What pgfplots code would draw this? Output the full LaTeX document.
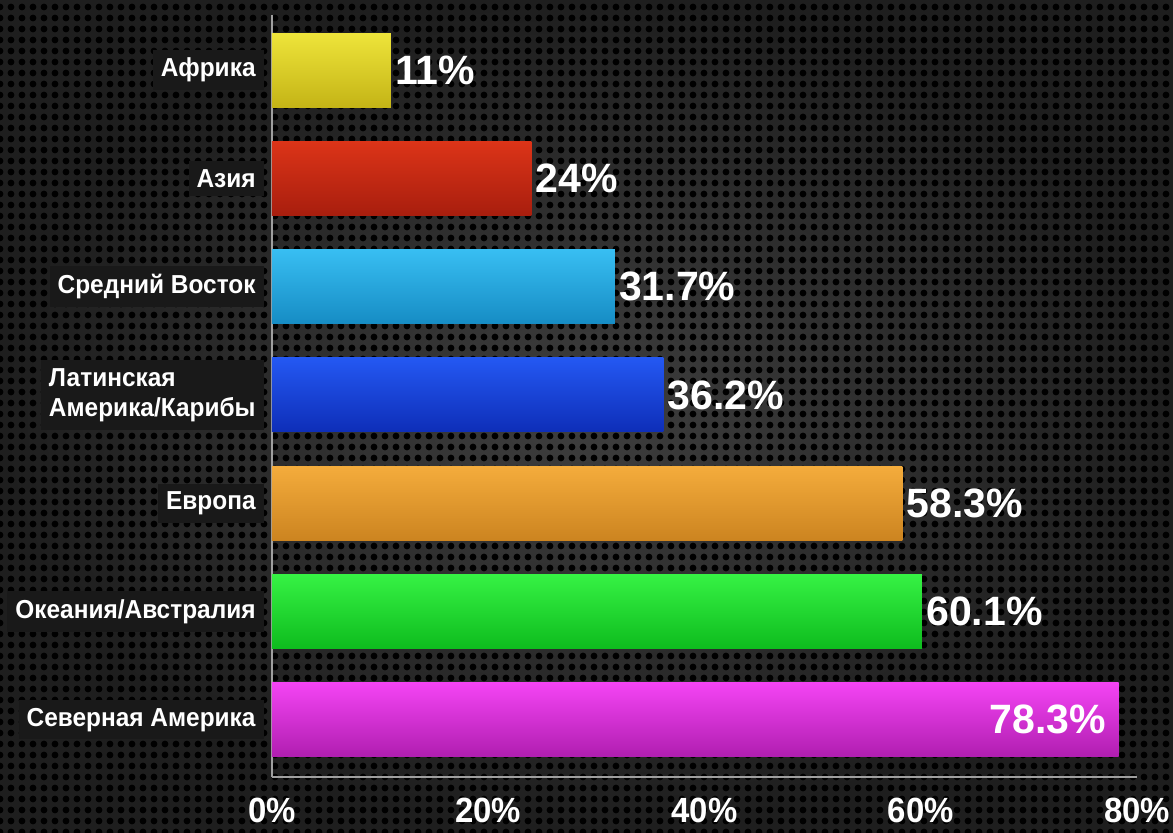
\documentclass[border=0pt]{standalone}
\usepackage{fontspec}
\setmainfont{Liberation Sans}
\newfontfamily\narrowfont[FakeStretch=0.94]{Liberation Sans}
\usepackage{pgfplots}
\pgfplotsset{compat=1.18}
\usetikzlibrary{patterns.meta}

\definecolor{bgin}{HTML}{3E3E3E}
\definecolor{bgout}{HTML}{1E1E1E}
\definecolor{yelT}{HTML}{EEE43A}\definecolor{yelB}{HTML}{C4B416}
\definecolor{redT}{HTML}{DC3418}\definecolor{redB}{HTML}{A81E0E}
\definecolor{cyaT}{HTML}{38BEF2}\definecolor{cyaB}{HTML}{168CC4}
\definecolor{bluT}{HTML}{2458F2}\definecolor{bluB}{HTML}{0E2EB8}
\definecolor{oraT}{HTML}{F4AC3C}\definecolor{oraB}{HTML}{CC8420}
\definecolor{greT}{HTML}{36F244}\definecolor{greB}{HTML}{0EBC1E}
\definecolor{magT}{HTML}{F444F4}\definecolor{magB}{HTML}{B01EB0}

\begin{document}
\begin{tikzpicture}
\useasboundingbox (0,0) rectangle (586.5pt,416pt);
\shade[inner color=bgin, outer color=bgout] (0,0) rectangle (586.5pt,416pt);
\fill[pattern={Dots[distance=5.5pt, radius=1.7pt]}, pattern color=black] (0,0) rectangle (586.5pt,416pt);

\begin{axis}[
  at={(136pt,27.5pt)}, anchor=south west,
  scale only axis, width=432.5pt, height=381pt,
  xmin=0, xmax=80, ymin=-0.53, ymax=6.51,
  xbar, bar width=37pt, bar shift=0pt,
  axis x line*=bottom, axis y line*=left,
  axis line style={draw=gray!75, line width=0.6pt, -},
  major tick length=0pt,
  /pgf/number format/assume math mode=true,
  xtick={0,20,40,60,80},
  xticklabels={0\%,20\%,40\%,60\%,80\%},
  ytick={0,1,2,3,4,5,6},
  yticklabels={Северная Америка,Океания/Австралия,Европа,{Латинская\\Америка/Карибы},Средний Восток,Азия,Африка},
  xticklabel style={font=\narrowfont\bfseries\fontsize{17.5pt}{18pt}\selectfont, text=white, yshift=-7pt},
  yticklabel style={font=\narrowfont\bfseries\fontsize{13pt}{15pt}\selectfont, text=white, fill=black!90, align=left, inner sep=4pt, xshift=-4pt},
  nodes near coords={\pgfmathprintnumber{\pgfplotspointmeta}\%},
  every node near coord/.append style={font=\bfseries\fontsize{20.5pt}{22pt}\selectfont, text=white, anchor=west, inner sep=2pt},
  clip=false,
]
\addplot[draw=none, top color=yelT, bottom color=yelB] coordinates {(11,6)};
\addplot[draw=none, top color=redT, bottom color=redB] coordinates {(24,5)};
\addplot[draw=none, top color=cyaT, bottom color=cyaB] coordinates {(31.7,4)};
\addplot[draw=none, top color=bluT, bottom color=bluB] coordinates {(36.2,3)};
\addplot[draw=none, top color=oraT, bottom color=oraB] coordinates {(58.3,2)};
\addplot[draw=none, top color=greT, bottom color=greB] coordinates {(60.1,1)};
\addplot[draw=none, top color=magT, bottom color=magB,
  every node near coord/.append style={anchor=east, xshift=-4pt}] coordinates {(78.3,0)};
\end{axis}
\end{tikzpicture}
\end{document}
